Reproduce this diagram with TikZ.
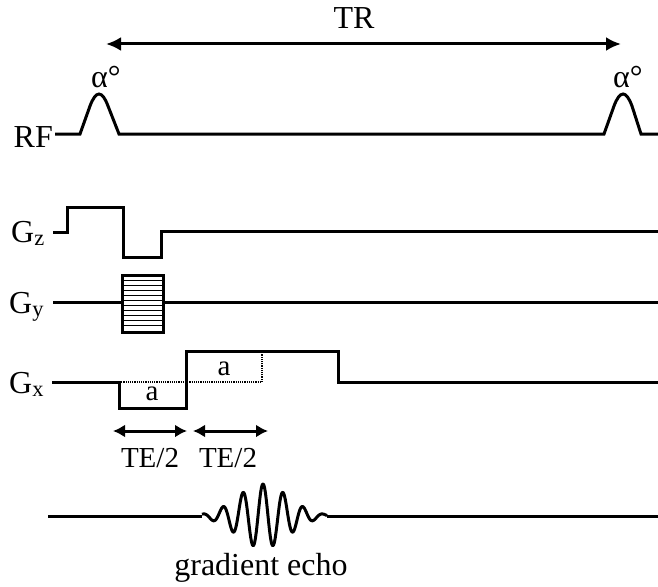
\documentclass[tikz,border=0pt]{standalone}
\usepackage{fontspec}
\setmainfont{Liberation Serif}
\usetikzlibrary{arrows.meta}

\begin{document}
\begin{tikzpicture}[x=1pt,y=-1pt,
  signal/.style={line width=3pt},%Trait epais des chronogrammes
  cote/.style={line width=3pt,{Latex[length=15pt,width=14pt]}-{Latex[length=15pt,width=14pt]}},%Fleches doubles
  petit/.style={line width=3pt,{Latex[length=12pt,width=13pt]}-{Latex[length=12pt,width=13pt]}},
  every node/.style={inner sep=0pt,font=\fontsize{32}{34}\selectfont}]
\useasboundingbox (0,0) rectangle (658,586);
% points utiles
\coordinate (trG) at (106,44);
\coordinate (trD) at (621,44);
\coordinate (teA) at (113,431);
\coordinate (teB) at (187,431);
\coordinate (teC) at (193,431);
\coordinate (teD) at (268,431);

\draw[cote] (trG) -- (trD);
\node (tr) at (354,18) {TR};

% RF
\node (rf) at (53,147) [anchor=base east] {RF};
\draw[signal] (55,134) -- (80,134) -- (90,106) .. controls (96,90) and (102,90) .. (108,106)
  -- (119,134) -- (604,134) -- (614,106) .. controls (620,90) and (626,90) .. (632,106)
  -- (641,134) -- (658,134);
\node (alpha1) at (91,88) [anchor=base west] {α°};
\node (alpha2) at (613,88) [anchor=base west] {α°};

% Gz
\node (gz) at (11,242) [anchor=base west] {G\textsubscript{z}};
\draw[signal] (53,232) -- (67,232) -- (67,207) -- (123,207) -- (123,257)
  -- (161,257) -- (161,231) -- (658,231);

% Gy
\node (gy) at (9,313) [anchor=base west] {G\textsubscript{y}};
\draw[signal] (53,302) -- (658,302);
\fill[white] (122,275) rectangle (163,332);
\foreach \y in {280,285,...,327}
  \draw[line width=0.8pt] (122,\y) -- (163,\y);
\draw[signal] (122,275) rectangle (163,332);

% Gx
\node (gx) at (9,393) [anchor=base west] {G\textsubscript{x}};
\draw[densely dotted,line width=1.2pt] (119,382) -- (262,382) -- (262,351);
\draw[signal] (52,382) -- (119,382) -- (119,408) -- (186,408) -- (186,351)
  -- (338,351) -- (338,382) -- (658,382);
\node (a1) at (152,400) [anchor=base,font=\fontsize{29}{31}\selectfont] {a};
\node (a2) at (224,375) [anchor=base,font=\fontsize{29}{31}\selectfont] {a};

\draw[petit] (teA) -- (teB);
\draw[petit] (teC) -- (teD);
\node (te1) at (150,467) [anchor=base,font=\fontsize{29}{31}\selectfont] {TE/2};
\node (te2) at (228,467) [anchor=base,font=\fontsize{29}{31}\selectfont] {TE/2};

% echo
\draw[signal] (48,516) -- (202,516);
\draw[signal,line join=round] plot[domain=202:327,samples=250,smooth]
  (\x,{516-32*exp(-((\x-263)/36)^2)*cos(deg(2*pi*(\x-263)/20))});
\draw[signal] (327,516) -- (658,516);
\node (echo) at (261,575) [anchor=base] {gradient echo};
\end{tikzpicture}
\end{document}
